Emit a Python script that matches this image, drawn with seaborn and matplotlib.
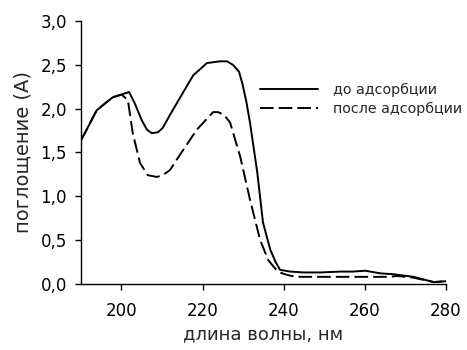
import matplotlib
matplotlib.use("Agg")
import matplotlib.pyplot as plt
import seaborn as sns
import pandas as pd
from matplotlib.ticker import FuncFormatter

# Data
wl_before = [190, 191, 193.9, 196, 197.9, 200, 201.9, 203.3, 205, 206.3, 207.5, 209, 210.2, 212,
             214.4, 217.7, 221.1, 224.3, 226, 227.5, 229, 229.8, 230.8, 231.7, 233.5, 234.9, 236.7,
             238, 239.1, 241.6, 245, 249, 254, 257, 260.1, 263.8, 267, 272, 277, 280]
a_before = [1.64, 1.72, 1.98, 2.06, 2.13, 2.16, 2.19, 2.06, 1.87, 1.76, 1.72, 1.73, 1.78, 1.93,
            2.12, 2.38, 2.52, 2.54, 2.54, 2.50, 2.42, 2.29, 2.08, 1.84, 1.27, 0.70, 0.39,
            0.25, 0.16, 0.14, 0.13, 0.13, 0.14, 0.14, 0.15, 0.12, 0.11, 0.08, 0.02, 0.03]

wl_after = [190, 191, 193.9, 196, 197.9, 200, 201.6, 202.8, 204.6, 206.5, 208.8, 210.5, 212, 214.4,
            218.6, 222.6, 223.8, 225.3, 226.8, 229.3, 231.7, 234.2, 236.2, 238, 239, 241, 243,
            250, 260, 266, 268, 272, 277, 280]
a_after = [1.64, 1.72, 1.98, 2.06, 2.13, 2.16, 2.10, 1.72, 1.38, 1.24, 1.22, 1.25, 1.30, 1.47,
           1.76, 1.96, 1.96, 1.93, 1.84, 1.45, 0.96, 0.50, 0.27, 0.17, 0.13, 0.10, 0.08,
           0.08, 0.08, 0.08, 0.09, 0.07, 0.02, 0.03]

labels = ["до адсорбции", "после адсорбции"]
x_ticks = [200, 220, 240, 260, 280]
y_ticks = [0.0, 0.5, 1.0, 1.5, 2.0, 2.5, 3.0]

sns.set_style("ticks")
plt.rcParams["font.family"] = ["DejaVu Sans"]

fig = plt.figure(figsize=(4.67, 3.5), dpi=100)
ax = fig.add_axes([0.173, 0.189, 0.782, 0.751])

df_b = pd.DataFrame({"wl": wl_before, "A": a_before})
df_a = pd.DataFrame({"wl": wl_after, "A": a_after})
sns.lineplot(data=df_b, x="wl", y="A", ax=ax, color="black", lw=1.4, label=labels[0], sort=False)
sns.lineplot(data=df_a, x="wl", y="A", ax=ax, color="black", lw=1.4, label=labels[1], sort=False)
ax.lines[1].set_dashes((7, 2.6))

ax.set_xlim(190, 280)
ax.set_ylim(0, 3.0)
ax.set_xticks(x_ticks)
ax.set_yticks(y_ticks)
ax.yaxis.set_major_formatter(FuncFormatter(lambda v, p: f"{v:.1f}".replace(".", ",")))
ax.tick_params(axis="both", direction="out", length=4, width=1, labelsize=12, colors="black")
ax.tick_params(axis="y", pad=6)
ax.tick_params(axis="x", pad=9)
for s in ["top", "right"]:
    ax.spines[s].set_visible(False)
for s in ["left", "bottom"]:
    ax.spines[s].set_color("black")
    ax.spines[s].set_linewidth(1.0)

ax.set_xlabel("длина волны, нм", fontsize=13, labelpad=4)
ax.set_ylabel("поглощение (A)", fontsize=14, labelpad=6)

leg = ax.legend(loc="upper left", bbox_to_anchor=(0.49, 0.766), frameon=False, fontsize=10.3,
                handlelength=4.1, handletextpad=1.0, labelspacing=0.4, borderpad=0,
                borderaxespad=0)

fig.savefig("out.png", dpi=100)
